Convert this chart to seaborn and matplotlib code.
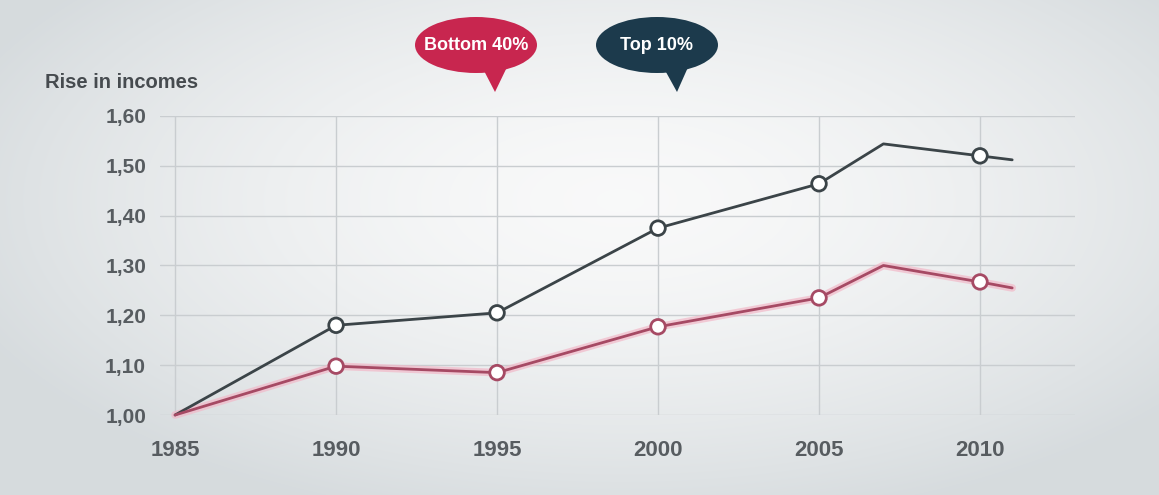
import numpy as np
import pandas as pd
import seaborn as sns
import matplotlib.pyplot as plt
from matplotlib.patches import Ellipse, Polygon

# values
years = [1985, 1990, 1995, 2000, 2005, 2007, 2010, 2011]
top10 = [1.00, 1.18, 1.205, 1.375, 1.464, 1.544, 1.52, 1.512]
bottom40 = [1.00, 1.098, 1.085, 1.177, 1.235, 1.30, 1.267, 1.255]
marker_years = [1990, 1995, 2000, 2005, 2010]
y_ticks = [1.00, 1.10, 1.20, 1.30, 1.40, 1.50, 1.60]
x_ticks = [1985, 1990, 1995, 2000, 2005, 2010]

top_col = "#3b4448"
bot_col = "#a64a64"
glow_col = "#f2b8c8"

df = pd.DataFrame({
    "year": years * 2,
    "rise": top10 + bottom40,
    "group": ["Top 10%"] * len(years) + ["Bottom 40%"] * len(years),
})
marks = df[df["year"].isin(marker_years)]

sns.set_style("whitegrid")
plt.rcParams["font.family"] = ["Liberation Sans", "DejaVu Sans"]

fig = plt.figure(figsize=(11.59, 4.95), dpi=100)

# soft grey background, lighter in the middle
h, w = 495, 1159
yy, xx = np.mgrid[0:h, 0:w]
d = np.sqrt(((xx - 620) / 700.0) ** 2 + ((yy - 200) / 330.0) ** 2)
t = np.clip(d, 0, 1)
c0 = np.array([0.975, 0.977, 0.978])
c1 = np.array([0.84, 0.86, 0.87])
bg = c0 + (c1 - c0) * t[..., None] ** 1.6
fig.figimage(bg, xo=0, yo=0, zorder=-10, origin="upper")

ax = fig.add_axes([0.138, 0.1616, 0.7895, 0.6041])
ax.set_facecolor("none")

# faint glow under the bottom line
sub_b = df[df["group"] == "Bottom 40%"]
sns.lineplot(data=sub_b, x="year", y="rise", color=glow_col, linewidth=5.5,
             ax=ax, legend=False, zorder=2, alpha=0.7)

sns.lineplot(data=df, x="year", y="rise", hue="group",
             palette={"Top 10%": top_col, "Bottom 40%": bot_col},
             linewidth=2.0, ax=ax, legend=False, zorder=3)
for line in ax.lines:
    line.set_clip_on(False)

sns.scatterplot(data=marks, x="year", y="rise", hue="group",
                palette={"Top 10%": top_col, "Bottom 40%": bot_col},
                ax=ax, legend=False, zorder=4, s=110, facecolor="white",
                linewidth=2.0, clip_on=False)
# white fill, coloured edge
coll = ax.collections[-1]
coll.set_edgecolors(coll.get_facecolors())
coll.set_facecolors("white")

ax.set_xlim(1984.53, 2012.95)
ax.set_ylim(1.0, 1.6)
ax.set_xticks(x_ticks)
ax.set_yticks(y_ticks)
ax.set_yticklabels([f"{v:.2f}".replace(".", ",") for v in y_ticks])
ax.set_xlabel("")
ax.set_ylabel("")
ax.grid(True, color="#c9cdd0", linewidth=1.0)
ax.grid(False, axis="x")
for xt in x_ticks:
    ax.axvline(xt, color="#c9cdd0", linewidth=1.0, zorder=0)
for s in ax.spines.values():
    s.set_visible(False)
ax.tick_params(axis="y", length=0, pad=10, labelsize=15, labelcolor="#575c60")
ax.tick_params(axis="x", length=0, pad=18, labelsize=16, labelcolor="#575c60")
for lab in ax.get_xticklabels() + ax.get_yticklabels():
    lab.set_fontweight("bold")

fig.text(45 / w, 1 - 82 / h, "Rise in incomes", fontsize=14.5, fontweight="bold",
         color="#464b4f", va="center", ha="left")

# speech-bubble legend
def bubble(cx, cy, tipx, tipy, color, label):
    fx = lambda px: px / w
    fy = lambda py: 1 - py / h
    tail = Polygon([(fx(cx + 4), fy(cy + 18)), (fx(cx + 32), fy(cy + 20)),
                    (fx(tipx), fy(tipy))], closed=True, transform=fig.transFigure,
                   facecolor=color, edgecolor="none", zorder=5)
    ell = Ellipse((fx(cx), fy(cy)), 122 / w, 56 / h, transform=fig.transFigure,
                  facecolor=color, edgecolor="none", zorder=6)
    fig.patches.extend([tail, ell])
    fig.text(fx(cx), fy(cy), label, color="white", fontsize=13,
             fontweight="bold", ha="center", va="center", zorder=7)

bubble(476, 45, 495, 92, "#c8264f", "Bottom 40%")
bubble(657, 45, 677, 92, "#1c3a4c", "Top 10%")

fig.savefig("out.png", dpi=100)
